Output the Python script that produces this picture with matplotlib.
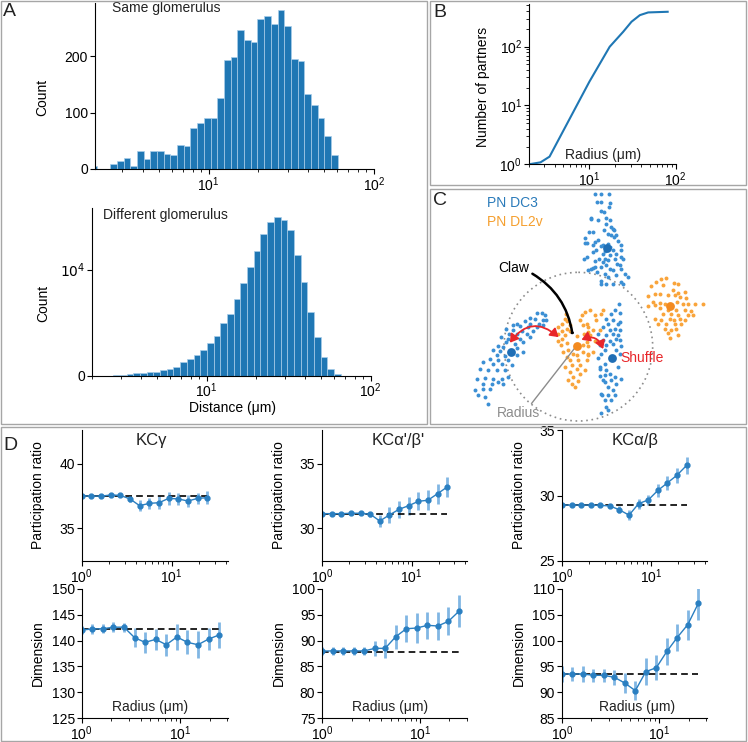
import numpy as np
import matplotlib
matplotlib.use("Agg")
import matplotlib.pyplot as plt
from matplotlib.patches import Rectangle, Circle, FancyArrowPatch

plt.rcParams['font.family'] = ['Liberation Sans', 'DejaVu Sans']
plt.rcParams['font.size'] = 10
plt.rcParams['axes.linewidth'] = 0.8
plt.rcParams['text.color'] = '#222222'

W, H = 748, 742
BLUE = '#1f77b4'

# ---- panel A data: histograms of claw distance (log bins)
same_lo, same_w = 0.2817, 0.04052
same_counts = [5, 0, 0, 8, 14, 19, 6, 32, 18, 32, 32, 26, 24, 42, 40, 72, 81, 91, 91,
               125, 193, 199, 247, 228, 225, 265, 271, 257, 281, 254, 195, 191, 133,
               114, 90, 58, 25]
diff_lo, diff_w = 0.4309, 0.04077
diff_counts = [60, 90, 125, 220, 250, 310, 380, 560, 660, 850, 1290, 1540, 1940, 2410,
               3100, 3700, 4920, 5860, 7180, 8710, 10250, 11720, 13320, 14450, 14950,
               14700, 13700, 11410, 8840, 5990, 3640, 1790, 630, 160]

# ---- panel B data
radius_b = [2, 2.72, 3.46, 10, 17.2, 24.6, 30.8, 38.5, 48, 80.7]
partners = [1.0, 1.08, 1.35, 25.3, 99.5, 178, 265, 343, 381, 391]

# ---- panel D data
radii = [1, 1.28, 1.64, 2.1, 2.69, 3.45, 4.4, 5.65, 7.24, 9.28, 11.9, 15.2, 19.5, 25]
kc_names = ["KCγ", "KCα'/β'", "KCα/β"]
pr_vals = [
    [37.51, 37.51, 37.5, 37.59, 37.56, 37.28, 36.76, 36.94, 36.99, 37.33, 37.28, 37.12, 37.33, 37.38],
    [31.14, 31.14, 31.14, 31.17, 31.17, 31.09, 30.57, 31.04, 31.48, 31.76, 32.1, 32.18, 32.69, 33.21],
    [29.27, 29.27, 29.27, 29.27, 29.25, 29.2, 28.91, 28.5, 29.38, 29.66, 30.39, 30.96, 31.55, 32.3],
]
pr_errs = [
    [0.05, 0.05, 0.05, 0.06, 0.08, 0.26, 0.45, 0.45, 0.5, 0.5, 0.45, 0.45, 0.45, 0.5],
    [0.05, 0.05, 0.05, 0.05, 0.06, 0.2, 0.5, 0.6, 0.65, 0.7, 0.7, 0.78, 0.78, 0.78],
    [0.05, 0.05, 0.05, 0.05, 0.05, 0.08, 0.26, 0.39, 0.39, 0.39, 0.52, 0.52, 0.57, 0.65],
]
pr_base = [37.5, 31.14, 29.27]
dim_vals = [
    [142.05, 142.25, 142.3, 142.6, 142.6, 140.57, 139.66, 140.24, 139.2, 140.7, 139.66, 139.2, 140.3, 141.1],
    [87.98, 88.0, 88.0, 88.0, 88.0, 88.5, 88.5, 90.76, 92.3, 92.44, 92.96, 92.83, 93.73, 95.67],
    [93.53, 93.53, 93.53, 93.27, 93.27, 92.88, 91.78, 90.3, 93.98, 94.75, 97.9, 100.6, 103.1, 107.2],
]
dim_errs = [
    [0.8, 0.9, 0.9, 1.0, 0.85, 1.9, 2.1, 2.1, 2.1, 2.6, 2.3, 2.6, 2.1, 2.6],
    [0.85, 0.85, 0.85, 0.85, 0.85, 1.4, 1.9, 2.3, 2.6, 2.9, 2.6, 2.7, 2.7, 3.1],
    [1.6, 1.3, 1.6, 1.3, 1.3, 1.4, 1.9, 1.9, 2.6, 2.4, 2.6, 2.6, 2.9, 3.2],
]
dim_base = [142.2, 87.8, 93.5]
pr_lims = [(32.46, 42.64), (27.46, 37.64), (25, 35)]
pr_ticks = [[35, 40], [30, 35], [25, 30, 35]]
dim_lims = [(125, 150), (75, 100), (85, 110)]

# ---- panel C data (schematic point clouds)
dc3_top = [(494,28),(514,26),(536,28),(502,51),(512,51),(539,54),(536,66),(514,78),(522,81),(484,103),
           (504,104),(529,98),(539,106),(529,116),(542,126),(549,131),(552,136),(522,134),(489,141),(534,146),
           (544,151),(559,151),(552,156),(504,166),(494,171),(564,169),(534,176),(489,181),(514,184),(574,181),
           (574,196),(499,196),(549,196),(519,206),(539,211),(559,206),(506,221),(524,221),(534,226),(554,221),
           (574,216),(519,231),(562,236),(579,221),(494,246),(514,246),(529,241),(539,251),(569,241),(574,251),
           (484,251),(474,254),(489,249),(549,256),(584,266),(594,276),(524,266),(559,271),(534,276),(514,288),
           (529,298),(549,296),(574,291),(579,298),(512,296),(483,100),(478,140),(465,160),(470,175),(490,200),
           (470,215),(495,228),(500,262),(465,174),(462,221),(520,180),(540,186),(525,198)]
dc3_left = [(320,384),(335,384),(345,391),(300,398),(315,401),(338,404),(348,406),(285,408),(260,416),(300,416),
            (328,416),(270,424),(248,421),(295,426),(320,426),(338,421),(228,431),(250,436),(275,438),(310,438),
            (238,446),(260,448),(290,446),(212,456),(235,461),(270,461),(300,456),(228,471),(255,476),(280,471),
            (205,484),(220,486),(260,488),(190,496),(210,498),(280,501),(200,511),(225,514),(260,511),(180,521),
            (205,524),(235,526),(160,531),(190,536),(215,538),(245,541),(150,551),(175,554),(200,554),(225,556),
            (140,581),(165,578),(190,581),(215,581),(235,576),(160,596),(185,596),(205,591),(220,596),(135,616),
            (160,611),(180,611),(145,631),(165,636),(175,656)]
dc3_right = [(566,358),(554,374),(544,388),(569,384),(529,401),(549,406),(564,416),(569,411),(534,416),(519,426),
             (554,431),(539,436),(569,436),(504,446),(529,451),(549,446),(564,451),(559,461),(519,466),(539,468),
             (569,466),(509,481),(529,481),(549,476),(574,484),(524,496),(559,494),(514,506),(569,506),(524,536),
             (564,546),(509,551),(529,556),(539,566),(554,576),(574,581),(524,571),(509,574),(544,586),(524,591),
             (559,596),(534,606),(549,616),(514,626),(534,631),(554,631),(524,646),(544,646),(529,666),(534,674),
             (514,684),(505,520),(510,545),(520,585),(515,630)]
dl2v_right = [(679,291),(694,281),(709,279),(732,294),(744,298),(664,304),(699,301),(729,316),(744,324),(764,321),
              (654,334),(674,326),(689,328),(714,331),(736,331),(749,336),(769,339),(669,351),(689,354),(704,356),
              (742,351),(759,356),(774,358),(794,356),(819,358),(654,364),(674,361),(689,368),(714,374),(739,376),
              (764,374),(784,378),(699,386),(724,386),(744,391),(774,391),(789,391),(674,401),(694,406),(719,401),
              (732,404),(749,401),(764,404),(684,418),(709,416),(736,416),(754,416),(704,431),(724,436),(739,431),
              (714,444),(744,451),(719,458)]
dl2v_mid = [(408,388),(405,401),(412,408),(395,416),(420,421),(385,426),(410,431),(395,438),(420,438),(385,446),
            (405,451),(440,454),(460,421),(462,446),(475,441),(470,416),(450,406),(455,391),(465,381),(395,461),
            (385,468),(410,474),(392,481),(415,496),(400,501),(428,506),(460,501),(440,511),(410,516),(420,526),
            (445,526),(470,526),(425,541),(450,541),(405,546),(440,551),(465,556),(420,561),(450,566),(430,576),
            (415,584),(445,588),(425,596),(435,606),(470,471),(460,481),(475,506),(479,374),(494,391),(514,386),
            (519,376),(499,406),(474,426),(489,436),(509,436),(479,451),(494,468),(474,484),(489,501),(474,511)]
dc3_centres = [(530,190),(243,502),(545,520)]
dl2v_centres = [(720,362),(440,484)]

fig = plt.figure(figsize=(W/100, H/100), dpi=100)


def add_ax(l, t, r, b):
    return fig.add_axes([l/W, 1 - b/H, (r - l)/W, (b - t)/H])


def style(ax):
    ax.spines['top'].set_visible(False)
    ax.spines['right'].set_visible(False)
    ax.tick_params(which='major', direction='out', length=3.5, width=0.8, labelsize=10, pad=1.5)
    ax.tick_params(which='minor', direction='out', length=2.2, width=0.6)
    ax.tick_params(axis='x', which='major', pad=0.8)


# panel borders
for (l, t, r, b) in [(1, 1, 427, 424), (430, 1, 746, 185), (430, 189, 746, 424), (1, 427, 746, 741)]:
    fig.add_artist(Rectangle((l/W, 1 - b/H), (r - l)/W, (b - t)/H, transform=fig.transFigure,
                             fill=False, ec='#a6a6a6', lw=1.0))

# ---- A
ax = add_ax(95, 3, 374, 169)
edges = np.logspace(same_lo, same_lo + same_w*len(same_counts), len(same_counts) + 1)
ax.hist(edges[:-1], bins=edges, weights=same_counts, color=BLUE, ec='#a9cde9', lw=0.5)
ax.set_xscale('log')
ax.set_xlim(2.05, 100)
ax.set_ylim(0, 294)
ax.set_yticks([0, 100, 200])
style(ax)
ax.set_ylabel('Count')
ax.yaxis.set_label_coords(-0.165, 0.43)
ax.text(0.061, 0.968, 'Same glomerulus', transform=ax.transAxes, va='center', fontsize=10)

ax = add_ax(92, 208, 370.7, 375.7)
edges = np.logspace(diff_lo, diff_lo + diff_w*len(diff_counts), len(diff_counts) + 1)
ax.hist(edges[:-1], bins=edges, weights=diff_counts, color=BLUE, ec='#a9cde9', lw=0.5)
ax.set_xscale('log')
ax.set_xlim(2, 100)
ax.set_ylim(0, 15800)
ax.set_yticks([0, 10000])
ax.set_yticklabels(['0', '$10^4$'])
style(ax)
ax.set_ylabel('Count')
ax.yaxis.set_label_coords(-0.15, 0.43)
ax.set_xlabel('Distance (μm)')
ax.xaxis.set_label_coords(0.503, -0.15)
ax.text(0.04, 0.958, 'Different glomerulus', transform=ax.transAxes, va='center', fontsize=10)

# ---- B
ax = add_ax(529, 4, 675.7, 164.3)
ax.plot(radius_b, partners, color=BLUE, lw=1.5)
ax.set_xscale('log')
ax.set_yscale('log')
ax.set_xlim(2, 100)
ax.set_ylim(1, 530)
style(ax)
ax.set_ylabel('Number of partners')
ax.yaxis.set_label_coords(-0.266, 0.484)
ax.text(0.507, 0.058, 'Radius (μm)', transform=ax.transAxes, ha='center', va='center', fontsize=10)

# ---- C
ax = add_ax(430, 189, 746, 424)
ax.set_xlim(0, 948)
ax.set_ylim(717, 12)
ax.axis('off')
ax.add_patch(Circle((445, 485), 223, fill=False, ec='#8c8c8c', lw=1.2, ls=(0, (1, 2.2))))
for cloud in [dc3_top, dc3_left, dc3_right]:
    xs, ys = zip(*cloud)
    ax.scatter(xs, ys, s=8, color='#3b8fd4', lw=0)
for cloud in [dl2v_right, dl2v_mid]:
    xs, ys = zip(*cloud)
    ax.scatter(xs, ys, s=8, color='#f9a43a', lw=0)
xs, ys = zip(*dc3_centres)
ax.scatter(xs, ys, s=40, color='#1f6eb5', lw=0, zorder=3)
xs, ys = zip(*dl2v_centres)
ax.scatter(xs, ys, s=40, color='#f38a1f', lw=0, zorder=3)
ax.plot([432, 305], [492, 655], color='#8c8c8c', lw=1)
ax.add_patch(FancyArrowPatch((300, 262), (428, 452), connectionstyle='arc3,rad=-0.25',
                             arrowstyle='-[, widthB=0.35, lengthB=0', color='black', lw=1.8, zorder=4))
for p0, p1, rad in [((235, 480), (392, 462), -0.58), ((447, 468), (522, 500), -0.6)]:
    ax.add_patch(FancyArrowPatch(p0, p1, connectionstyle='arc3,rad=%s' % rad,
                                 arrowstyle='<|-|>, head_length=0.4, head_width=0.25',
                                 mutation_scale=12, color='#e8262a', lw=1.3, zorder=4))
ax.text(296, 248, 'Claw', ha='right', va='center', fontsize=10, color='black')
ax.text(570, 518, 'Shuffle', ha='left', va='center', fontsize=10, color='#e8262a')
ax.text(265, 685, 'Radius', ha='center', va='center', fontsize=10, color='#8c8c8c')
ax.text(170, 55, 'PN DC3', ha='left', va='center', fontsize=10, color='#2b7bba')
ax.text(170, 112, 'PN DL2v', ha='left', va='center', fontsize=10, color='#f5a030')

# ---- D
cols = [(81.7, 227.7), (322.3, 467.3), (562, 706.7)]
title_x = [0.479, 0.522, 0.504]
rad_x = [0.468, 0.467, 0.518]
for i, (l, r) in enumerate(cols):
    ax = add_ax(l, 430, r, 561)
    ax.errorbar(radii, pr_vals[i], yerr=pr_errs[i], fmt='o-', color='#2a7fc1', ms=3.5, lw=1,
                ecolor=(0.24, 0.56, 0.83, 0.65), elinewidth=2, capsize=0)
    ax.plot([radii[0], radii[-1]], [pr_base[i]]*2, color='black', ls=(0, (4, 2.5)), lw=1.2)
    ax.set_xscale('log')
    ax.set_xlim(1, 42)
    ax.set_ylim(*pr_lims[i])
    ax.set_yticks(pr_ticks[i])
    style(ax)
    ax.set_ylabel('Participation ratio')
    ax.yaxis.set_label_coords(-0.25, 0.504)
    ax.text(title_x[i], 0.918, kc_names[i], transform=ax.transAxes, ha='center', va='center', fontsize=12)

    ax = add_ax(l, 589, r, 718)
    ax.errorbar(radii, dim_vals[i], yerr=dim_errs[i], fmt='o-', color='#2a7fc1', ms=3.5, lw=1,
                ecolor=(0.24, 0.56, 0.83, 0.65), elinewidth=2, capsize=0)
    ax.plot([radii[0], radii[-1]], [dim_base[i]]*2, color='black', ls=(0, (4, 2.5)), lw=1.2)
    ax.set_xscale('log')
    ax.set_xlim(1, 30.5)
    ax.set_ylim(*dim_lims[i])
    ax.set_yticks(np.arange(dim_lims[i][0], dim_lims[i][1] + 1, 5))
    style(ax)
    ax.set_ylabel('Dimension')
    ax.yaxis.set_label_coords(-0.25, 0.5)
    ax.text(rad_x[i], 0.088, 'Radius (μm)', transform=ax.transAxes, ha='center', va='center', fontsize=10)

# panel letters
for txt, x, y in [('A', 3, 3), ('B', 433, 4), ('C', 433, 192), ('D', 3, 437)]:
    fig.text(x/W, 1 - y/H, txt, ha='left', va='top', fontsize=14)

fig.savefig('out.png', dpi=100)
